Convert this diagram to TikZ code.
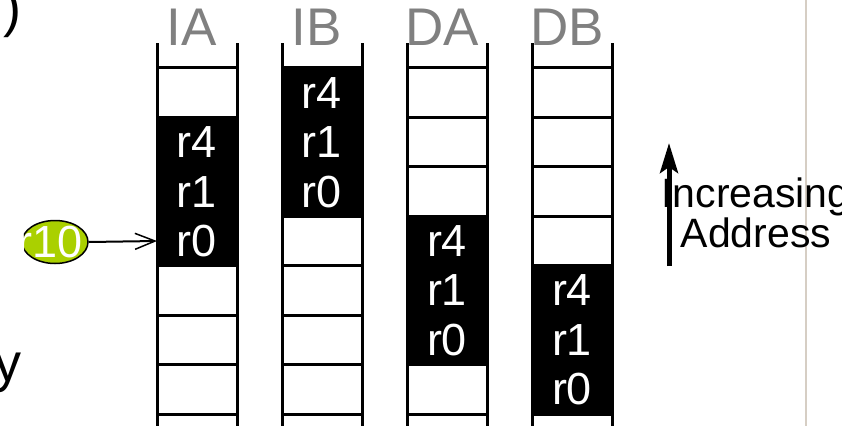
\documentclass[tikz,border=0pt]{standalone}
\usepackage{fontspec}
\setmainfont{Liberation Sans}
\usetikzlibrary{arrows.meta,shapes.geometric}
\definecolor{limeg}{RGB}{170,208,0}
\definecolor{sepline}{RGB}{214,206,196}
\definecolor{labgray}{RGB}{128,128,128}
\begin{document}
\begin{tikzpicture}[x=1pt,y=-1pt,
  wall/.style={line width=3pt},
  cell/.style={draw=black,line width=3pt,fill=white,minimum width=80pt,minimum height=49.43pt,inner sep=0pt,outer sep=0pt},
  full/.style={cell,fill=black,text=white,font=\fontsize{45}{45}\selectfont},
  collab/.style={text=labgray,font=\fontsize{53}{53}\selectfont,inner sep=0pt,anchor=base},
  bigtxt/.style={font=\fontsize{54}{54}\selectfont,inner sep=0pt}]
\useasboundingbox (0,0) rectangle (842,426);
% separator
\draw[sepline,line width=2pt] (806,0) -- (806,426);
% stacks
\foreach \c/\x/\s in {IA/157/1, IB/282/0, DA/407/3, DB/532/4} {
  \draw[wall] (\x,43) -- (\x,426);
  \draw[wall] (\x+80,43) -- (\x+80,426);
  \foreach \k in {0,...,6} {
    \pgfmathtruncatemacro\d{\k-\s}
    \ifnum\d<0
      \node[cell] (\c-\k) at (\x+40,92.7+49.43*\k) {};
    \else\ifnum\d>2
      \node[cell] (\c-\k) at (\x+40,92.7+49.43*\k) {};
    \else
      \node[full] (\c-\k) at (\x+40,92.7+49.43*\k) {\ifcase\d r4\or r1\or r0\fi};
    \fi\fi
  }
  \node[collab] (\c-lab) at (\x+35,45) {\c};
}
% r10 pointer
\node[ellipse,draw=black,line width=1.5pt,fill=limeg,minimum width=66pt,minimum height=43pt,inner sep=0pt] (r10) at (55,242) {};
\node[text=white,font=\fontsize{45}{45}\selectfont,inner sep=0pt] (r10txt) at (50,242) {r10};
\draw[line width=2pt,-{Straight Barb[length=20pt,width=16pt,line width=1.5pt]}] (r10.east) -- (IA-3.west);
% increasing address
\coordinate (incfrom) at (669,266);
\coordinate (incto) at (669,143);
\draw[line width=5pt,-{Stealth[length=30pt,width=18pt,inset=6pt]}] (incfrom) -- (incto);
\node[font=\fontsize{41}{40}\selectfont,inner sep=0pt,anchor=base,align=center] (inc) at (756,247) {Increasing\\Address};
% cropped text fragments
\node[bigtxt,anchor=base west] (paren) at (3.5,26) {)};
\node[bigtxt,anchor=base east] (yfrag) at (21.5,381) {y};
\end{tikzpicture}
\end{document}
